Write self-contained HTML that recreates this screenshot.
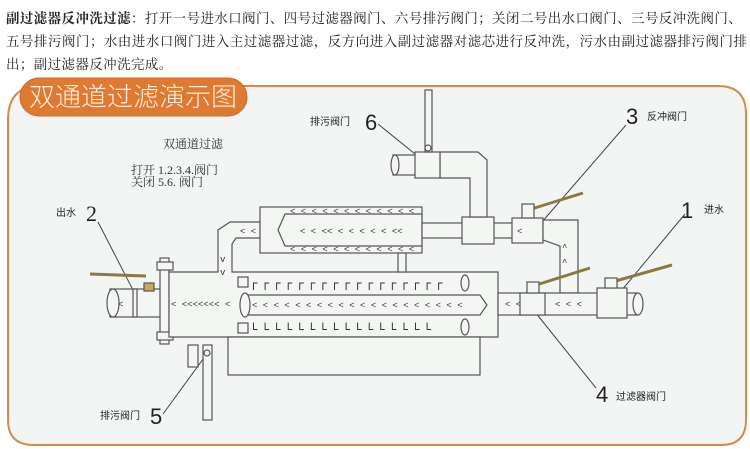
<!DOCTYPE html>
<html><head><meta charset="utf-8">
<style>
html,body{margin:0;padding:0;background:#fff;}
body{width:750px;height:449px;overflow:hidden;position:relative;font-family:"Liberation Serif","Noto Serif CJK SC",serif;}
.p{position:absolute;left:6px;font-size:13.4px;color:#222;white-space:nowrap;letter-spacing:0.5px}
</style></head><body>
<div class="p" style="top:8px"><b>副过滤器反冲洗过滤</b>：打开一号进水口阀门、四号过滤器阀门、六号排污阀门；关闭二号出水口阀门、三号反冲洗阀门、</div>
<div class="p" style="top:31px;letter-spacing:0.6px">五号排污阀门；水由进水口阀门进入主过滤器过滤，反方向进入副过滤器对滤芯进行反冲洗，污水由副过滤器排污阀门排</div>
<div class="p" style="top:54px">出；副过滤器反冲洗完成。</div>
<svg width="750" height="449" style="position:absolute;left:0;top:0" font-family="Liberation Sans, Noto Sans CJK SC, sans-serif">
<path d="M40,86 L718,86 Q746,86 746,114 L746,420 Q746,445 721,445 L34,445 Q8,445 8,420 L8,120 Q8,86 40,86Z" fill="#f2f5f4" stroke="#d98a4a" stroke-width="2"/>
<rect x="20" y="78" width="227" height="38" rx="19" fill="#df7a33" stroke="#c86a28"/>
<text x="133" y="106" text-anchor="middle" font-size="26" fill="#fbeede" font-family="Noto Sans CJK SC, sans-serif" font-weight="300">双通道过滤演示图</text>
<g fill="#333" font-family="Liberation Serif, Noto Serif CJK SC, serif">
<text x="193" y="148" text-anchor="middle" font-size="12">双通道过滤</text>
<text x="131" y="174" font-size="12">打开 1.2.3.4.阀门</text>
<text x="131" y="186" font-size="12">关闭 5.6.     阀门</text>
</g>
<g fill="#222" font-family="Liberation Sans, Noto Sans CJK SC, sans-serif">
<text x="56" y="216" font-size="10">出水</text><text x="86" y="221" font-size="22" font-family="Liberation Serif, serif">2</text>
<text x="310" y="125" font-size="10">排污阀门</text><text x="365" y="130" font-size="22">6</text>
<text x="626" y="124" font-size="22">3</text><text x="647" y="120" font-size="10">反冲阀门</text>
<text x="681" y="218" font-size="22">1</text><text x="704" y="213" font-size="10">进水</text>
<text x="596" y="402" font-size="22">4</text><text x="616" y="400" font-size="10">过滤器阀门</text>
<text x="100" y="419" font-size="10">排污阀门</text><text x="150" y="424" font-size="22">5</text>
</g>
<g stroke="#444" stroke-width="1" fill="none">
<line x1="98" y1="222" x2="133" y2="290"/><line x1="378" y1="124" x2="420" y2="158"/>
<line x1="626" y1="125" x2="535" y2="230"/><line x1="685" y1="214" x2="612" y2="302"/>
<line x1="596" y1="388" x2="535" y2="312"/><line x1="163" y1="414" x2="206" y2="355"/>
</g>
<g stroke="#555" stroke-width="1.2" fill="#f4f6f4">
<rect x="110" y="289" width="58" height="28"/><ellipse cx="113" cy="303" rx="6" ry="14"/>
<rect x="133" y="289" width="4" height="28"/>
<line x1="90" y1="274" x2="146" y2="276" stroke="#8a7a40" stroke-width="3"/>
<rect x="144" y="283" width="10" height="8" fill="#c8a860"/>
<rect x="160" y="258" width="9" height="86"/>
<rect x="157" y="262" width="16" height="8"/><rect x="157" y="332" width="16" height="8"/>
<path d="M169,272 L218,272 L218,230 L230,222 L260,222 L260,238 L236,238 L232,244 L232,272 L498,272 L498,337 L169,337Z"/>
<rect x="228" y="337" width="252" height="38"/>
<rect x="203" y="345" width="9" height="75"/><rect x="188" y="345" width="10" height="22"/>
<circle cx="207" cy="353" r="3"/>
<path d="M245,295 L480,295 L487,305 L480,315 L245,315Z"/>
<ellipse cx="245" cy="305" rx="5" ry="12"/>
<ellipse cx="465" cy="283" rx="4" ry="8"/><ellipse cx="465" cy="327" rx="4" ry="8"/>
<rect x="238" y="277" width="10" height="10"/><rect x="238" y="323" width="10" height="10"/>
<rect x="260" y="207" width="162" height="46"/>
<path d="M285,214 L422,214 L422,246 L285,246 L278,230Z"/>
<rect x="398" y="253" width="8" height="19"/>
<rect x="422" y="223" width="95" height="15"/>
<rect x="462" y="217" width="32" height="27"/>
<path d="M470,217 L470,178 L440,178 L440,152 L478,152 L487,160 L487,217Z"/>
<rect x="393" y="155" width="25" height="20"/><ellipse cx="395" cy="165" rx="4" ry="10"/>
<rect x="415" y="152" width="25" height="26"/>
<rect x="425" y="90" width="7" height="62"/><circle cx="428" cy="148" r="3"/>
<rect x="512" y="218" width="31" height="25"/>
<path d="M543,220 L578,220 L578,293 L560,293 L560,246 L543,240Z"/>
<line x1="528" y1="210" x2="583" y2="193" stroke="#8a7a40" stroke-width="3"/>
<rect x="522" y="204" width="12" height="14"/>
<rect x="498" y="293" width="140" height="22"/>
<rect x="520" y="293" width="25" height="22"/>
<rect x="597" y="288" width="30" height="30"/><ellipse cx="638" cy="304" rx="5" ry="11"/>
<line x1="612" y1="282" x2="672" y2="265" stroke="#8a7a40" stroke-width="3"/>
<rect x="605" y="278" width="12" height="10"/>
<line x1="533" y1="286" x2="590" y2="268" stroke="#8a7a40" stroke-width="3"/>
<rect x="527" y="282" width="12" height="11"/>
</g>
<g fill="#333" font-size="9" font-family="Liberation Mono, monospace">
<text x="118" y="307">&lt;</text><text x="171" y="307">&lt;  &lt;&lt;&lt;&lt;&lt;&lt;&lt; &lt;</text>
<text x="252" y="308">&lt; &lt; &lt; &lt; &lt; &lt; &lt; &lt; &lt; &lt; &lt; &lt; &lt; &lt; &lt; &lt; &lt; &lt; &lt; &lt;</text>
<text x="252" y="290" font-size="10">ᒥ ᒥ ᒥ ᒥ ᒥ ᒥ ᒥ ᒥ ᒥ ᒥ ᒥ ᒥ ᒥ ᒥ ᒥ ᒥ ᒥ</text>
<text x="252" y="330" font-size="10">ᒪ ᒪ ᒪ ᒪ ᒪ ᒪ ᒪ ᒪ ᒪ ᒪ ᒪ ᒪ ᒪ ᒪ ᒪ ᒪ</text>
<text x="300" y="234">&lt; &lt; &lt;&lt;  &lt; &lt; &lt; &lt; &lt; &lt;&lt;</text>
<text x="290" y="214">&lt; &lt; &lt; &lt; &lt; &lt; &lt; &lt; &lt; &lt; &lt; &lt;</text>
<text x="290" y="252">&lt; &lt; &lt; &lt; &lt; &lt; &lt; &lt; &lt; &lt; &lt; &lt;</text>
<text x="240" y="234">&lt;  &lt;</text><text x="505" y="307">&lt; &lt;</text>
<text x="555" y="307">&lt;  &lt;  &lt;</text><text x="517" y="234">&lt;</text>
<text x="220" y="262">v</text><text x="220" y="275">v</text><text x="562" y="265">^</text><text x="562" y="250">^</text>
</g>
</svg>
</body></html>
